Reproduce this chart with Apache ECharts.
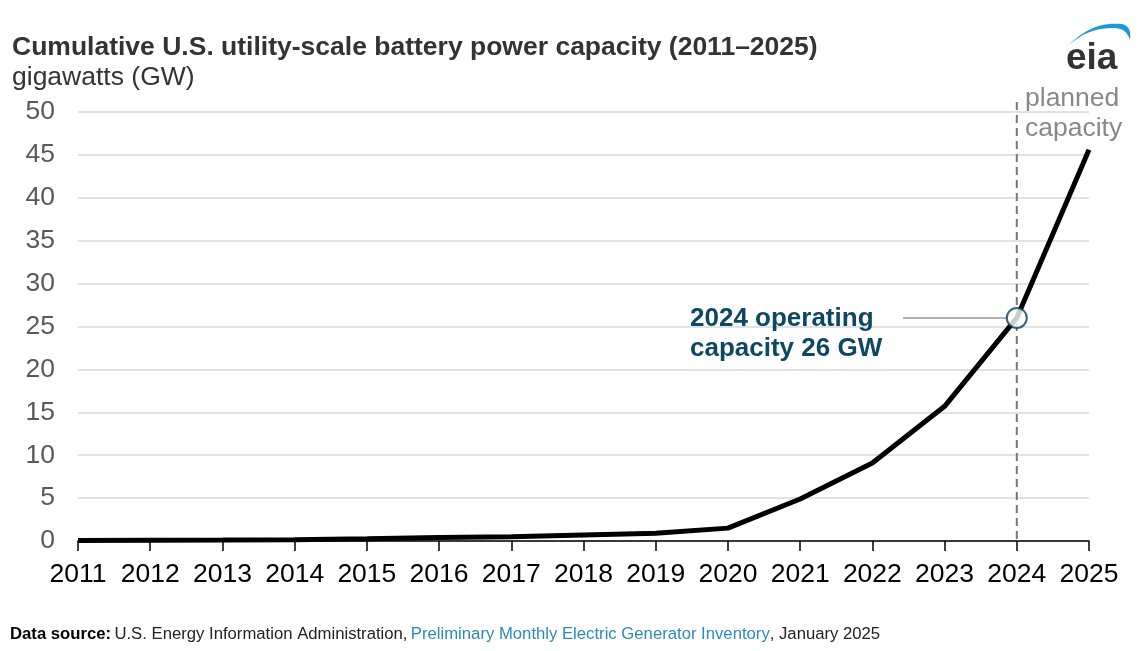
<!DOCTYPE html>
<html><head><meta charset="utf-8">
<script src="https://cdn.jsdelivr.net/npm/echarts@6/dist/echarts.min.js"></script>
<style>html,body{margin:0;padding:0;background:#fff}#c{width:1141px;height:651px}</style>
</head><body><div id="c"></div>
<script>
const years = ['2011','2012','2013','2014','2015','2016','2017','2018','2019','2020','2021','2022','2023','2024','2025'];
const capacityGW = [0.05, 0.1, 0.12, 0.15, 0.25, 0.4, 0.5, 0.7, 0.9, 1.5, 4.9, 9.1, 15.7, 26, 45.6];
const yTicks = [0, 5, 10, 15, 20, 25, 30, 35, 40, 45, 50];
const highlightYear = '2024';
const highlightValue = 26;

const chart = echarts.init(document.getElementById('c'), null, {renderer:'canvas'});
const F = 'Liberation Sans, Arial, sans-serif';
chart.setOption({
  animation:false,
  backgroundColor:'#fff',
  grid:{left:78, right:52, top:112, bottom:110},
  xAxis:{type:'category', data:years, boundaryGap:false,
    axisLine:{lineStyle:{color:'#000', width:1.5}},
    axisTick:{show:true, length:10, lineStyle:{color:'#000', width:1.5}},
    axisLabel:{color:'#000', fontSize:26.5, fontFamily:F, margin:20, interval:0}},
  yAxis:{type:'value', min:yTicks[0], max:yTicks[yTicks.length-1], interval:5,
    axisLine:{show:false}, axisTick:{show:false},
    axisLabel:{color:'#595959', fontSize:26.5, fontFamily:F, margin:23},
    splitLine:{lineStyle:{color:'#d9d9d9', width:1.5}}},
  series:[
    {type:'line', data:capacityGW, symbol:'none', lineStyle:{color:'#000', width:5}, z:3},
    {type:'scatter', data:[[highlightYear, highlightValue]], symbol:'circle', symbolSize:20,
      itemStyle:{color:'#fff', borderColor:'#0b3c57', borderWidth:2}, z:5}
  ]
});

function qb(a, c, b, n){ const out=[]; for(let i=0;i<=n;i++){const t=i/n,u=1-t; out.push([u*u*a[0]+2*u*t*c[0]+t*t*b[0], u*u*a[1]+2*u*t*c[1]+t*t*b[1]]);} return out; }
const outer = qb([1069,45],[1092,21],[1122,24],16).concat(qb([1122,24],[1132,26],[1130,40],6).slice(1));
const inner = qb([1130,40],[1126,27],[1112,28],8).slice(1).concat(qb([1112,28],[1088,28],[1069,45],10).slice(1));
const crescent = outer.concat(inner);

const p = chart.convertToPixel({gridIndex:0}, [highlightYear, highlightValue]);
const base = chart.convertToPixel({gridIndex:0}, [highlightYear, 0]);
chart.setOption({graphic:[
  {type:'text', left:12, top:34, style:{text:'Cumulative U.S. utility-scale battery power capacity (2011\u20132025)', font:'bold 26.5px '+F, fill:'#333'}},
  {type:'text', left:12, top:64, style:{text:'gigawatts (GW)', font:'26.5px '+F, fill:'#333'}},
  {type:'line', z:1, shape:{x1:p[0], y1:102, x2:base[0], y2:base[1]}, style:{stroke:'#777', lineWidth:2, lineDash:[8,5]}},
  {type:'line', z:2, shape:{x1:903, y1:p[1], x2:p[0]-10, y2:p[1]}, style:{stroke:'#999', lineWidth:1.5}},
  {type:'text', left:690, top:304, style:{text:'2024 operating\ncapacity 26 GW', font:'bold 26px '+F, fill:'#0e4764', lineHeight:30}},
  {type:'text', left:1025, top:84, style:{text:'planned\ncapacity', font:'26.5px '+F, fill:'#888', lineHeight:30}},
  {type:'text', left:1066, top:40, style:{text:'eia', font:'bold 37px '+F, fill:'#333'}},
  {type:'polygon', shape:{points:crescent}, style:{fill:'#1a9ad6'}},
  {type:'text', left:10, top:626, style:{rich:{
      b:{font:'bold 16.7px '+F, fill:'#000'},
      n:{font:'16.7px '+F, fill:'#222'},
      l:{font:'16.7px '+F, fill:'#2a8bb8'}},
    text:'{b|Data source:} {n|U.S. Energy Information Administration,} {l|Preliminary Monthly Electric Generator Inventory}{n|, January 2025}'}}
]});
</script></body></html>
